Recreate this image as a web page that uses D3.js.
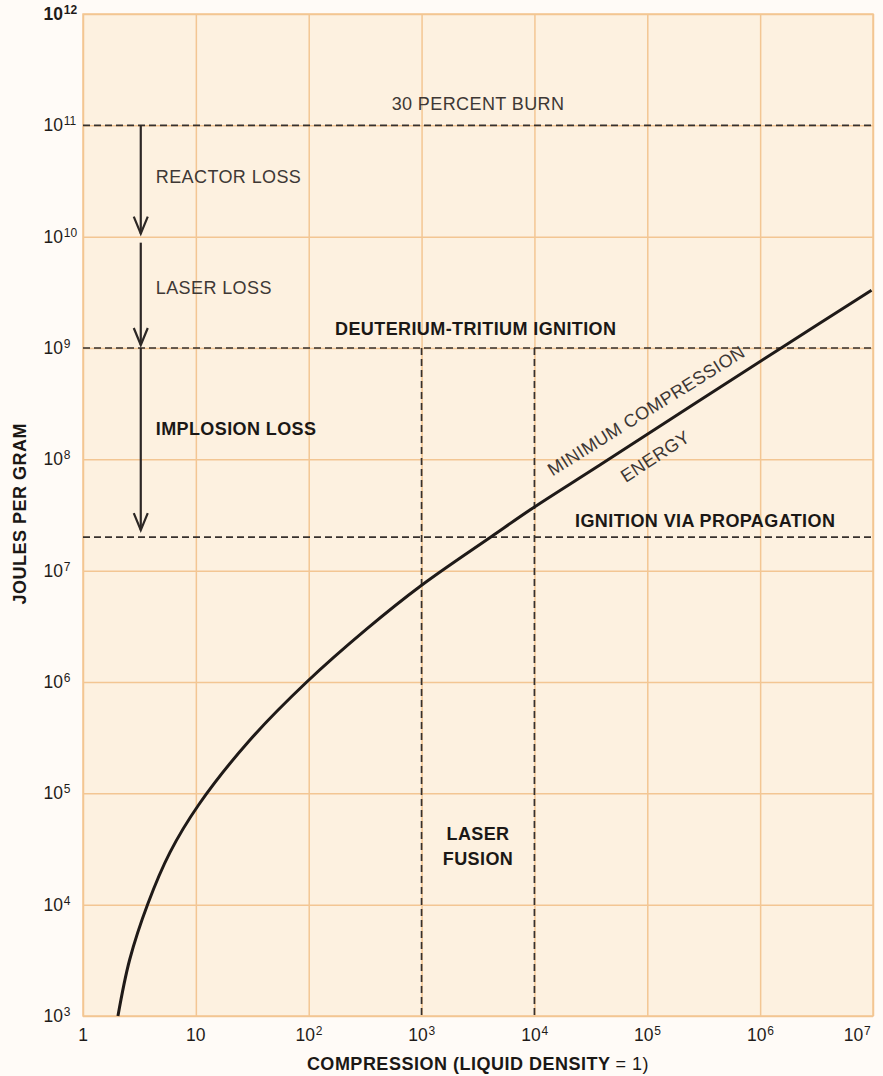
<!DOCTYPE html>
<html>
<head>
<meta charset="utf-8">
<script src="https://cdn.jsdelivr.net/npm/d3@7"></script>
<style>
	body { margin: 0; background: #fffbf7; }
	svg { display: block; font-family: 'Liberation Sans', Arial, Helvetica, sans-serif; }
	.grid line { stroke: #f3c693; stroke-width: 1.5; }
	.grid path { display: none; }
	.tick-label { font-size: 17.5px; fill: #1f1b19; }
	.tick-sup { font-size: 12px; fill: #1f1b19; }
	.level { stroke: #37312d; stroke-width: 1.7; stroke-dasharray: 7,4; fill: none; }
	.curve { stroke: #1f1a18; stroke-width: 3; fill: none; }
	.arrow { stroke: #2c2725; stroke-width: 2.2; fill: none; }
	.note { font-size: 18px; letter-spacing: 0.4px; fill: #3d3835; }
	.note-bold { font-size: 18px; letter-spacing: 0.4px; font-weight: bold; fill: #1b1816; }
	.axis-title { font-size: 18px; letter-spacing: 0.5px; font-weight: bold; fill: #1b1816; }
</style>
</head>
<body>
<svg id="chart" width="883" height="1076"></svg>
<script>

// decade exponents on both axes
const xExponents = [0, 1, 2, 3, 4, 5, 6, 7];
const yExponents = [3, 4, 5, 6, 7, 8, 9, 10, 11, 12];

// minimum compression energy curve
const curveCompression = [2.04, 2.59, 3.77, 5.9, 10.6, 30, 96, 327, 1000, 4200, 9700, 3.8e4, 1.65e6, 9.7e6];
const curveEnergy = [1.0e3, 3.2e3, 1.03e4, 2.95e4, 7.9e4, 3.0e5, 1.0e6, 3.0e6, 7.4e6, 2.04e7, 3.66e7, 8.9e7, 1.05e9, 3.3e9];

// horizontal dashed levels (joules per gram)
const levelEnergy = [1e11, 1e9, 2e7];

// vertical dashed markers (compression), from the ignition level down
const markerCompression = [1e3, 1e4];

// loss arrows
const arrowCompression = 3.25;
const arrowFrom = [1e11, 1e10, 1e9];
const arrowTo = [1e10, 1e9, 2e7];
const arrowLabels = ['REACTOR LOSS', 'LASER LOSS', 'IMPLOSION LOSS'];


let margin = {top: 14, right: 10, bottom: 60, left: 83},
	svg = d3.select('#chart'),
	width = +svg.attr('width') - margin.left - margin.right,
	height = +svg.attr('height') - margin.top - margin.bottom;

let x = d3.scaleLog()
	.domain([1, 1e7])
	.range([0, width]);

let y = d3.scaleLog()
	.domain([1e3, 1e12])
	.range([height, 0]);

let g = svg.append('g')
	.attr('transform', 'translate(' + margin.left + ',' + margin.top + ')');

// paper
g.append('rect')
	.attr('width', width)
	.attr('height', height)
	.attr('fill', '#fdf1e0');

// grid, one line per decade
g.append('g')
	.attr('class', 'grid')
	.attr('transform', 'translate(0,' + height + ')')
	.call(d3.axisBottom(x)
		.tickValues(xExponents.map(e => Math.pow(10, e)))
		.tickSize(height)
		.tickFormat(''))
	.selectAll('line')
	.attr('y2', -height);

g.append('g')
	.attr('class', 'grid')
	.call(d3.axisLeft(y)
		.tickValues(yExponents.map(e => Math.pow(10, e)))
		.tickSize(-width)
		.tickFormat(''));

g.append('rect')
	.attr('width', width)
	.attr('height', height)
	.attr('fill', 'none')
	.attr('stroke', '#f3c693')
	.attr('stroke-width', 1.5);


/**
* write a power of ten as "10" with a raised exponent
* anchorEnd puts the "10" to the left of (tx, ty) and the exponent after it
*/
function powerLabel(parent, exp, tx, ty, anchorEnd) {
	let base = exp === 0 ? '1' : '10';
	let t = parent.append('text')
		.attr('class', 'tick-label')
		.attr('x', tx)
		.attr('y', ty)
		.attr('text-anchor', anchorEnd ? 'end' : 'middle')
		.text(base);
	if (exp > 1) {
		let supW = anchorEnd ? 0 : 7 * String(exp).length;
		t.attr('x', tx - supW / 2);
		let bb = t.node().getBBox();
		parent.append('text')
			.attr('class', 'tick-sup')
			.attr('x', bb.x + bb.width + 0.5)
			.attr('y', ty - 6)
			.text(exp);
	}
}

let yLabels = g.append('g');
yExponents.forEach(e => {
	let lg = yLabels.append('g');
	powerLabel(lg, e, -20, y(Math.pow(10, e)) + 6, true);
	if (e === 12) lg.selectAll('text').style('font-weight', 'bold');
});

let xLabels = g.append('g');
xExponents.forEach(e => {
	let lg = xLabels.append('g');
	let px = x(Math.pow(10, e));
	if (e === 7) px -= 16;
	powerLabel(lg, e, px, height + 25, false);
});

// axis titles
svg.append('text')
	.attr('class', 'axis-title')
	.attr('transform', 'translate(26,' + (margin.top + y(1e7) - 57) + ') rotate(-90)')
	.attr('text-anchor', 'middle')
	.text('JOULES PER GRAM');

let xt = svg.append('text')
	.attr('class', 'axis-title')
	.attr('x', margin.left + x(Math.pow(10, 3.5)))
	.attr('y', margin.top + height + 54)
	.attr('text-anchor', 'middle')
	.text('COMPRESSION (LIQUID DENSITY ');
xt.append('tspan')
	.style('font-weight', 'normal')
	.text('= 1)');

// dashed levels and markers
g.selectAll('.level-h')
	.data(levelEnergy)
	.enter()
	.append('line')
	.attr('class', 'level')
	.attr('x1', 0)
	.attr('x2', width)
	.attr('y1', d => y(d))
	.attr('y2', d => y(d));

g.selectAll('.level-v')
	.data(markerCompression)
	.enter()
	.append('line')
	.attr('class', 'level')
	.attr('x1', d => x(d))
	.attr('x2', d => x(d))
	.attr('y1', y(1e9))
	.attr('y2', height);

// curve
let line = d3.line()
	.x(d => x(d[0]))
	.y(d => y(d[1]))
	.curve(d3.curveCatmullRom.alpha(0.5));

g.append('path')
	.attr('class', 'curve')
	.attr('d', line(d3.zip(curveCompression, curveEnergy)));

// arrows
let ax = x(arrowCompression);
arrowFrom.forEach((from, i) => {
	let y1 = y(from) + (i === 1 ? 6 : 0),
		y2 = y(arrowTo[i]) - (i === 2 ? 7 : 3);
	g.append('line')
		.attr('class', 'arrow')
		.attr('x1', ax).attr('x2', ax)
		.attr('y1', y1).attr('y2', y2);
	g.append('path')
		.attr('class', 'arrow')
		.attr('d', 'M' + (ax - 7) + ',' + (y2 - 17) + 'L' + ax + ',' + y2 + 'L' + (ax + 7) + ',' + (y2 - 17));
	g.append('text')
		.attr('class', i === 2 ? 'note-bold' : 'note')
		.attr('x', ax + 15)
		.attr('y', (y(from) + y(arrowTo[i])) / 2 + (i === 2 ? -8 : 2))
		.text(arrowLabels[i]);
});

// annotations
g.append('text')
	.attr('class', 'note')
	.attr('x', x(Math.pow(10, 3.5)))
	.attr('y', y(1e11) - 15)
	.attr('text-anchor', 'middle')
	.text('30 PERCENT BURN');

g.append('text')
	.attr('class', 'note-bold')
	.attr('x', x(Math.pow(10, 3.48)))
	.attr('y', y(1e9) - 13)
	.attr('text-anchor', 'middle')
	.text('DEUTERIUM-TRITIUM IGNITION');

g.append('text')
	.attr('class', 'note-bold')
	.attr('x', x(Math.pow(10, 4.36)))
	.attr('y', y(2e7) - 10)
	.text('IGNITION VIA PROPAGATION');

g.append('text')
	.attr('class', 'note-bold')
	.attr('x', x(Math.pow(10, 3.5)))
	.attr('y', y(1e5) + 47)
	.attr('text-anchor', 'middle')
	.text('LASER');

g.append('text')
	.attr('class', 'note-bold')
	.attr('x', x(Math.pow(10, 3.5)))
	.attr('y', y(1e5) + 72)
	.attr('text-anchor', 'middle')
	.text('FUSION');

// labels along the curve
g.append('text')
	.attr('class', 'note')
	.attr('text-anchor', 'middle')
	.attr('transform', 'translate(' + x(Math.pow(10, 5.02)) + ',' + y(Math.pow(10, 8.39)) + ') rotate(-32)')
	.text('MINIMUM COMPRESSION');

g.append('text')
	.attr('class', 'note')
	.attr('text-anchor', 'middle')
	.attr('transform', 'translate(' + x(Math.pow(10, 5.1)) + ',' + y(Math.pow(10, 7.98)) + ') rotate(-33)')
	.text('ENERGY');

</script>
</body>
</html>
